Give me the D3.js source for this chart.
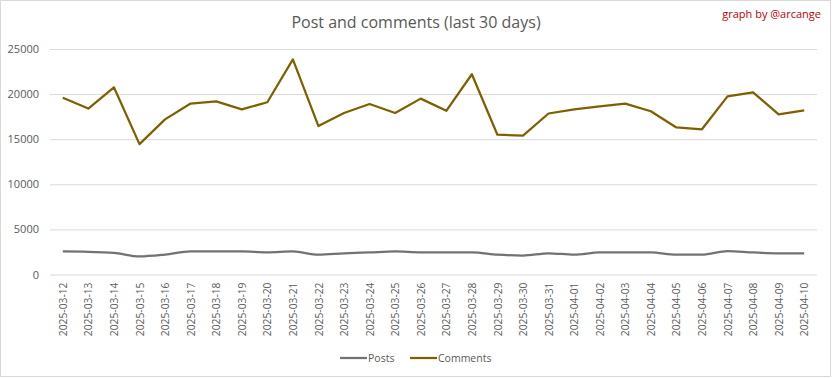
<!DOCTYPE html>
<html>
<head>
<meta charset="utf-8">
<script src="https://cdn.jsdelivr.net/npm/d3@7"></script>
<style>
  body { margin: 0; background: #fff; }
  text { font-family: "Open Sans", sans-serif; }
</style>
</head>
<body>
<div id="chart-area"></div>
<script>
var dates = ["2025-03-12","2025-03-13","2025-03-14","2025-03-15","2025-03-16","2025-03-17",
  "2025-03-18","2025-03-19","2025-03-20","2025-03-21","2025-03-22","2025-03-23","2025-03-24",
  "2025-03-25","2025-03-26","2025-03-27","2025-03-28","2025-03-29","2025-03-30","2025-03-31",
  "2025-04-01","2025-04-02","2025-04-03","2025-04-04","2025-04-05","2025-04-06","2025-04-07",
  "2025-04-08","2025-04-09","2025-04-10"];

var posts = [2550, 2520, 2400, 2000, 2200, 2550, 2550, 2550, 2450, 2550,
  2200, 2350, 2450, 2550, 2450, 2450, 2450, 2200, 2100, 2350,
  2200, 2450, 2450, 2450, 2200, 2200, 2600, 2450, 2350, 2350];

var comments = [19600, 18400, 20750, 14450, 17200, 18950, 19200, 18300, 19100, 23850,
  16450, 17900, 18900, 17900, 19500, 18150, 22200, 15500, 15400, 17850,
  18300, 18650, 18950, 18100, 16300, 16100, 19750, 20200, 17750, 18200];

var yTicks = [0, 5000, 10000, 15000, 20000, 25000];

var W = 832, H = 378;
// plot area (don't call these top/left, window.top is taken)
var plotL = 50, plotR = 817, plotT = 49, plotB = 274.5;

var svg = d3.select("#chart-area")
  .append("svg")
    .attr("width", W)
    .attr("height", H);

// chart border
svg.append("rect")
  .attr("x", 0.5).attr("y", 0.5)
  .attr("width", 830).attr("height", 376)
  .attr("fill", "#fff")
  .attr("stroke", "#d9d9d9");

var x = d3.scalePoint()
  .domain(dates)
  .range([plotL, plotR])
  .padding(0.5);

var y = d3.scaleLinear()
  .domain([0, 25000])
  .range([plotB, plotT]);

// gridlines + y labels
var yAxis = d3.axisLeft(y)
  .tickValues(yTicks)
  .tickSize(-(plotR - plotL))
  .tickPadding(11)
  .tickFormat(d3.format("d"));

var yg = svg.append("g")
  .attr("transform", "translate(" + plotL + ",0)")
  .call(yAxis);
yg.select(".domain").remove();
yg.selectAll(".tick line").attr("stroke", "#d9d9d9");
yg.selectAll(".tick text")
  .attr("fill", "#595959")
  .attr("font-size", "11px")
  .attr("font-family", "Open Sans, sans-serif");

// x labels
var xAxis = d3.axisBottom(x).tickSize(0).tickPadding(0);
var xg = svg.append("g")
  .attr("transform", "translate(0," + plotB + ")")
  .call(xAxis);
xg.select(".domain").remove();
xg.selectAll(".tick text")
  .attr("fill", "#595959")
  .attr("font-size", "10.3px")
  .attr("font-family", "Open Sans, sans-serif")
  .attr("text-anchor", "end")
  .attr("dy", "0.35em")
  .attr("transform", "translate(0,8) rotate(-90)")
  .attr("x", 0).attr("y", 0);

// lines
var postLine = d3.line()
  .x(function(d, i){ return x(dates[i]); })
  .y(function(d){ return y(d); })
  .curve(d3.curveMonotoneX);

var commentLine = d3.line()
  .x(function(d, i){ return x(dates[i]); })
  .y(function(d){ return y(d); });

svg.append("path")
  .datum(posts)
  .attr("fill", "none")
  .attr("stroke", "#767171")
  .attr("stroke-width", 2.25)
  .attr("d", postLine);

svg.append("path")
  .datum(comments)
  .attr("fill", "none")
  .attr("stroke", "#7f6000")
  .attr("stroke-width", 2.25)
  .attr("stroke-linejoin", "round")
  .attr("d", commentLine);

// title
svg.append("text")
  .attr("x", 416).attr("y", 28)
  .attr("text-anchor", "middle")
  .attr("fill", "#595959")
  .attr("font-size", "16px")
  .text("Post and comments (last 30 days)");

svg.append("text")
  .attr("x", 821).attr("y", 18)
  .attr("text-anchor", "end")
  .attr("fill", "#c00000")
  .attr("font-size", "11px")
  .text("graph by @arcange");

// legend
var legend = [
  { name: "Posts", color: "#767171", x: 340 },
  { name: "Comments", color: "#7f6000", x: 410 }
];
var lg = svg.selectAll(".legend")
  .data(legend)
  .enter().append("g")
    .attr("class", "legend")
    .attr("transform", function(d){ return "translate(" + d.x + ",358)"; });
lg.append("line")
  .attr("x1", 0).attr("x2", 27)
  .attr("stroke", function(d){ return d.color; })
  .attr("stroke-width", 2.25);
lg.append("text")
  .attr("x", 28).attr("dy", "0.35em")
  .attr("fill", "#595959")
  .attr("font-size", "10.5px")
  .text(function(d){ return d.name; });
</script>
</body>
</html>
